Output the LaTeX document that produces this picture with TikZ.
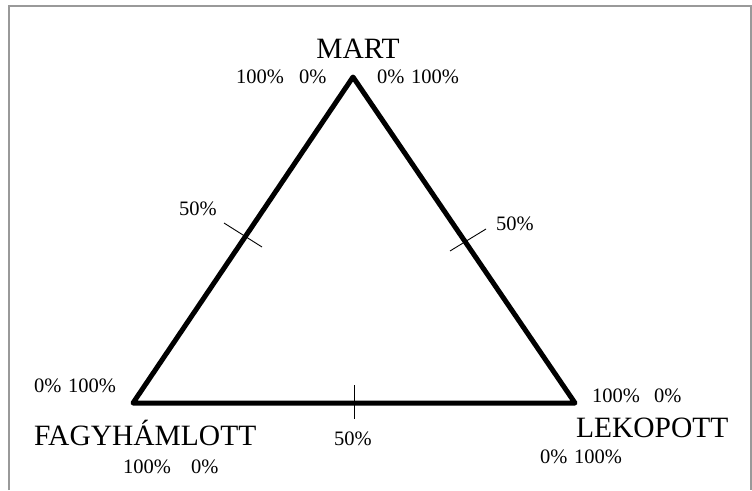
\documentclass[tikz,border=0pt]{standalone}
\usepackage{fontspec}
\setmainfont{Liberation Serif}
\begin{document}
\begin{tikzpicture}[
        x=1pt, y=-1pt,
        every node/.style={inner sep=0pt, outer sep=0pt},
        corner/.style={anchor=base, font=\fontsize{29.5}{29.5}\selectfont},
        pct/.style={anchor=base west, font=\fontsize{20.5}{20.5}\selectfont},
        edge/.style={line width=5pt, line join=round},
        tick/.style={line width=0.9pt},
        frame/.style={draw=black!40, line width=2pt}
      ]
    \useasboundingbox (0,0) rectangle (752,490);
    \draw[frame] (9,490) -- (9,6) -- (751,6) -- (751,490);
    % triangle
    \coordinate (mart) at (353,77);
    \coordinate (fagy) at (133,403);
    \coordinate (leko) at (575,403);
    \draw[edge] (mart) -- (fagy) -- (leko) -- cycle;
    % half marks
    \coordinate (la) at (224,223);
    \coordinate (lb) at (262,247);
    \coordinate (ra) at (450,251);
    \coordinate (rb) at (486,229);
    \coordinate (ba) at (354,385);
    \coordinate (bb) at (354,419);
    \draw[tick] (la) -- (lb);
    \draw[tick] (ra) -- (rb);
    \draw[tick] (ba) -- (bb);
    % corner names
    \node[corner] (nmart) at (358,58) {MART};
    \node[corner, anchor=base west] (nfagy) at (34,445) {FAGYHÁMLOTT};
    \node[corner, anchor=base west] (nleko) at (576,437) {LEKOPOTT};
    % percentages
    \node[pct] (tl1) at (236,83) {100\%};
    \node[pct] (tl2) at (299,83) {0\%};
    \node[pct] (tr1) at (377,83) {0\%};
    \node[pct] (tr2) at (411,83) {100\%};
    \node[pct] (lf1) at (34,392) {0\%};
    \node[pct] (lf2) at (68,392) {100\%};
    \node[pct] (bf1) at (123,473) {100\%};
    \node[pct] (bf2) at (191,473) {0\%};
    \node[pct] (rl1) at (592,402) {100\%};
    \node[pct] (rl2) at (654,402) {0\%};
    \node[pct] (br1) at (540,463) {0\%};
    \node[pct] (br2) at (574,463) {100\%};
    \node[pct] (hl) at (179,215) {50\%};
    \node[pct] (hr) at (496,230) {50\%};
    \node[pct] (hb) at (334,445) {50\%};
\end{tikzpicture}
\end{document}
